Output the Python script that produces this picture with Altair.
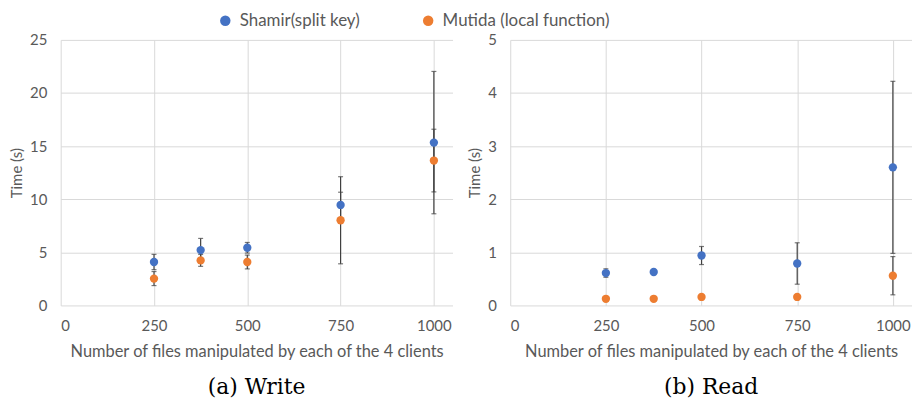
import altair as alt
import pandas as pd

files = [250, 375, 500, 750, 1000]
series_names = ["Shamir(split key)", "Mutida (local function)"]
series_colors = ["#4472C4", "#ED7D31"]

write_shamir = [4.09, 5.21, 5.43, 9.46, 15.33]
write_shamir_err = [0.72, 1.10, 0.50, 1.20, 6.70]
write_mutida = [2.53, 4.24, 4.09, 8.02, 13.64]
write_mutida_err = [0.66, 0.56, 0.65, 4.10, 2.95]

read_shamir = [0.61, 0.63, 0.94, 0.79, 2.60]
read_shamir_err = [0.08, 0.03, 0.17, 0.39, 1.62]
read_mutida = [0.125, 0.125, 0.16, 0.16, 0.56]
read_mutida_err = [0.03, 0.03, 0.03, 0.03, 0.36]

x_ticks = [0, 250, 500, 750, 1000]


def make_df(shamir, shamir_err, mutida, mutida_err):
    rows = []
    for name, vals, errs in [(series_names[0], shamir, shamir_err),
                             (series_names[1], mutida, mutida_err)]:
        for f, v, e in zip(files, vals, errs):
            rows.append({"files": f, "series": name, "value": v,
                         "lo": v - e, "hi": v + e})
    return pd.DataFrame(rows)


FONT = "Lato"
GRAY = "#595959"


def panel(df, ymax, ystep, width, caption):
    x = alt.X("files:Q", scale=alt.Scale(domain=[0, 1050], nice=False),
              axis=alt.Axis(values=x_ticks, title="Number of files manipulated by each of the 4 clients",
                            format="d"))
    yscale = alt.Scale(domain=[0, ymax], nice=False)
    yaxis = alt.Axis(values=list(range(0, ymax + 1, ystep)), title="Time (s)")
    color = alt.Color("series:N", scale=alt.Scale(domain=series_names, range=series_colors),
                      legend=alt.Legend(title=None, orient="none", direction="horizontal",
                                        legendX=157, legendY=-28, symbolType="circle",
                                        symbolSize=110, labelFontSize=17, labelFont=FONT,
                                        labelColor=GRAY, columnPadding=60, padding=0,
                                        symbolStrokeWidth=0, labelOffset=6, labelLimit=300))
    base = alt.Chart(df)
    rules = base.mark_rule(color="#404040", strokeWidth=1.2).encode(
        x=x, y=alt.Y("lo:Q", scale=yscale, axis=yaxis), y2="hi:Q")
    cap_lo = base.mark_tick(color="#404040", orient="horizontal", size=5, thickness=1.2).encode(
        x=x, y=alt.Y("lo:Q", scale=yscale, axis=yaxis))
    cap_hi = base.mark_tick(color="#404040", orient="horizontal", size=5, thickness=1.2).encode(
        x=x, y=alt.Y("hi:Q", scale=yscale, axis=yaxis))
    pts = base.mark_point(filled=True, size=70, opacity=1).encode(
        x=x, y=alt.Y("value:Q", scale=yscale, axis=yaxis), color=color)
    return alt.layer(rules, cap_lo, cap_hi, pts).properties(
        width=width, height=267,
        title=alt.TitleParams(caption, orient="bottom", font="DejaVu Serif",
                              fontSize=22, fontWeight="normal", color="#000000", offset=18))


left = panel(make_df(write_shamir, write_shamir_err, write_mutida, write_mutida_err),
             25, 5, 394, "(a) Write")
right = panel(make_df(read_shamir, read_shamir_err, read_mutida, read_mutida_err),
              5, 1, 404, "(b) Read")

chart = alt.hconcat(left, right, spacing=15).properties(
    padding={"left": 1, "top": 3, "right": 0, "bottom": 0}
).configure_view(stroke=None).configure_axis(
    grid=True, gridColor="#d9d9d9", gridWidth=1, domain=False, ticks=False,
    labelFont=FONT, labelFontSize=15, labelColor=GRAY, labelPadding=13,
    titleFont=FONT, titleFontSize=16.5, titleColor=GRAY, titleFontWeight="normal",
    titlePadding=10
).configure_axisY(labelPadding=14, titlePadding=5, titleFontSize=15)

chart.save("out.html", embed_options={"renderer": "svg", "actions": False})
